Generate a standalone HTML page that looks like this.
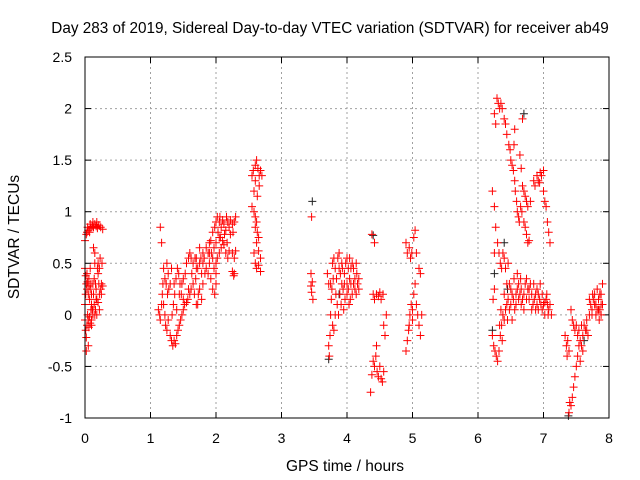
<!DOCTYPE html>
<html><head><meta charset="utf-8"><style>
body{margin:0;background:#fff;}
svg{display:block;font-family:"Liberation Sans",sans-serif;}
</style></head><body>
<svg id="c" width="640" height="480">
<text x="330" y="33" font-size="15.3" text-anchor="middle">Day 283 of 2019, Sidereal Day-to-day VTEC variation (SDTVAR) for receiver ab49</text>
<text x="345" y="471" font-size="15.5" text-anchor="middle">GPS time / hours</text>
<text transform="translate(19,237) rotate(-90)" font-size="15.5" text-anchor="middle">SDTVAR / TECUs</text>
<g id="grid"></g>
<g id="ticks"></g>
<g id="pts"></g>
<rect x="85" y="57" width="524" height="361" fill="none" stroke="#000"/>
</svg>
<script>
const xTicks=[0,1,2,3,4,5,6,7,8];
const yTicks=[-1,-0.5,0,0.5,1,1.5,2,2.5];
const yTickLabels=["-1","-0.5","0","0.5","1","1.5","2","2.5"];
const redPoints=[[0.0,0.72],[0.02,0.78],[0.03,0.8],[0.05,0.82],[0.07,0.8],[0.09,0.84],[0.11,0.86],[0.13,0.85],[0.15,0.88],[0.17,0.86],[0.19,0.84],[0.21,0.87],[0.24,0.85],[0.27,0.83],
[0.0,0.45],[0.01,0.38],[0.02,0.3],[0.03,0.25],[0.04,0.32],[0.05,0.2],[0.06,0.28],[0.07,0.15],[0.08,0.25],[0.09,0.3],[0.1,0.1],[0.11,0.05],[0.12,0.0],[0.13,0.2],[0.14,0.35],[0.15,0.5],[0.16,0.3],[0.17,0.25],[0.18,0.15],[0.19,0.45],[0.2,0.5],[0.21,0.3],[0.22,0.2],[0.23,0.55],[0.24,0.25],[0.25,0.3],[0.26,0.5],[0.27,0.28],[0.15,0.6],[0.13,0.65],
[0.0,-0.05],[0.01,-0.15],[0.02,-0.22],[0.03,-0.1],[0.04,0.0],[0.05,-0.05],[0.06,-0.12],[0.07,-0.02],[0.08,-0.08],[0.09,0.05],[0.1,-0.05],[0.12,0.05],[0.14,0.1],[0.16,0.05],[0.18,0.0],[0.2,0.12],[0.22,0.05],[0.02,-0.35],[0.05,-0.3],[0.0,0.1],[0.01,0.2],
[0.03,0.4],[0.06,0.35],[0.08,0.45],[0.1,0.2],[0.12,0.3],[0.2,0.4],[0.22,0.45],[0.25,0.2],[0.04,0.85],[0.08,0.88],[0.12,0.9],[0.18,0.9],[0.1,-0.1],[0.15,0.0],[0.17,0.15],
[1.15,0.85],[1.17,0.7],[1.12,0.05],[1.14,0.0],[1.15,-0.05],[1.17,0.1],[1.18,0.2],[1.19,0.3],[1.2,0.45],[1.2,0.1],[1.22,0.0],[1.23,-0.1],[1.25,-0.15],[1.27,-0.05],[1.28,0.25],[1.3,0.3],[1.32,0.45],[1.3,-0.2],[1.32,-0.25],[1.34,-0.3],[1.36,-0.25],[1.38,-0.28],[1.4,-0.2],[1.42,-0.15],[1.44,-0.1],[1.46,-0.05],[1.48,0.0],[1.5,0.05],[1.35,0.1],[1.37,0.2],[1.39,0.35],[1.41,0.45],[1.43,0.4],[1.45,0.3],[1.47,0.2],[1.5,0.15],[1.52,0.1],[1.55,0.12],[1.57,0.15],[1.6,0.2],[1.62,0.25],[1.65,0.3],[1.67,0.2],[1.7,0.1],[1.72,0.1],[1.69,0.35],[1.72,0.45],[1.75,0.5],[1.77,0.55],[1.8,0.6],[1.55,0.5],[1.58,0.55],[1.6,0.6],[1.62,0.55],[1.65,0.5],[1.68,0.55],[1.5,0.35],[1.53,0.4],[1.25,0.5],[1.27,0.4],[1.24,0.3],
[1.22,0.35],[1.26,0.2],[1.33,0.0],[1.36,0.3],[1.4,0.05],[1.44,0.2],[1.48,0.3],[1.58,0.25],[1.63,0.4],[1.7,0.45],[1.73,0.2],[1.78,0.4],
[1.8,0.5],[1.82,0.55],[1.85,0.65],[1.88,0.6],[1.9,0.7],[1.92,0.72],[1.95,0.8],[1.98,0.85],[2.0,0.9],[2.02,0.95],[2.05,0.9],[2.08,0.85],[2.1,0.92],[2.12,0.88],[2.15,0.82],[2.18,0.9],[2.2,0.85],[2.22,0.92],[2.25,0.88],[2.28,0.9],[2.3,0.95],[1.85,0.45],[1.9,0.5],[1.95,0.55],[2.0,0.5],[2.05,0.6],[2.08,0.65],[2.1,0.72],[2.12,0.68],[2.15,0.6],[2.18,0.55],[2.2,0.62],[2.25,0.6],[2.28,0.55],[2.3,0.62],[1.88,0.4],[1.92,0.35],[1.95,0.25],[1.98,0.2],[2.0,0.3],[2.02,0.55],[2.05,0.75],[2.25,0.42],[2.27,0.38],[2.28,0.4],[1.75,0.25],[1.78,0.15],[1.8,0.3],[1.83,0.4],[1.7,0.55],[1.75,0.65],
[1.93,0.6],[1.97,0.65],[2.0,0.7],[2.03,0.8],[2.07,0.75],[2.13,0.78],[2.17,0.7],[2.22,0.78],[2.26,0.8],[2.0,0.4],[1.97,0.45],[1.9,0.6],[2.06,0.95],[2.16,0.95],
[2.55,1.35],[2.57,1.4],[2.6,1.45],[2.62,1.5],[2.64,1.42],[2.66,1.35],[2.68,1.4],[2.58,1.2],[2.6,1.3],[2.63,1.15],[2.55,1.05],[2.58,1.0],[2.6,0.95],[2.62,0.9],[2.6,0.85],[2.63,0.8],[2.65,0.75],[2.62,0.7],[2.65,0.62],[2.68,0.55],[2.6,0.5],[2.62,0.45],[2.65,0.48],[2.68,0.42],[2.58,0.6],[2.66,1.25],[2.7,1.35],
[3.46,0.95],[3.45,0.4],[3.47,0.32],[3.46,0.22],[3.48,0.15],[3.45,0.28],
[3.7,0.4],[3.72,0.3],[3.72,-0.3],[3.73,-0.4],[3.74,-0.2],[3.75,0.0],[3.76,0.15],[3.77,0.25],[3.78,0.5],[3.8,0.55],[3.82,0.45],[3.84,0.35],[3.86,0.55],[3.88,0.6],[3.9,0.4],[3.92,0.3],[3.94,0.25],[3.96,0.4],[3.98,0.5],[4.0,0.55],[4.02,0.45],[4.04,0.35],[4.06,0.3],[4.08,0.5],[4.1,0.45],[4.12,0.35],[4.14,0.2],[4.16,0.3],[4.18,0.25],[3.85,0.1],[3.87,0.0],[3.89,0.2],[3.91,0.1],[3.95,0.05],[3.97,0.15],[4.0,0.2],[4.03,0.1],[4.05,0.15],[4.08,0.2],[3.8,-0.15],[3.78,-0.1],[3.82,0.0],[3.93,0.45],[4.0,0.3],[4.1,0.3],[4.15,0.4],
[3.75,0.3],[3.79,0.35],[3.83,0.2],[3.88,0.45],[3.92,0.5],[3.96,0.3],[4.02,0.25],[4.06,0.45],[4.12,0.25],[4.14,0.5],[4.18,0.35],[4.04,0.55],
[4.38,0.78],[4.42,0.7],[4.4,0.2],[4.42,0.15],[4.45,0.2],[4.48,0.18],[4.5,0.22],[4.52,0.15],[4.55,0.2],[4.4,-0.45],[4.42,-0.5],[4.44,-0.4],[4.46,-0.55],[4.48,-0.6],[4.5,-0.5],[4.52,-0.62],[4.54,-0.65],[4.56,-0.55],[4.58,-0.2],[4.56,-0.1],[4.38,-0.58],[4.36,-0.75],[4.45,-0.3],[4.6,0.0],
[4.9,0.7],[4.92,0.6],[4.95,0.65],[4.97,0.55],[4.99,0.6],[5.02,0.75],[5.04,0.82],[5.06,0.6],[5.1,0.45],[5.12,0.4],[4.9,-0.35],[4.92,-0.25],[4.94,-0.15],[4.96,0.0],[4.98,0.1],[5.0,0.05],[5.02,0.2],[5.04,0.3],[5.06,0.1],[5.08,0.0],[5.1,-0.1],[5.12,-0.2],[5.14,0.0],[5.0,-0.05],[4.95,-0.1],
[6.25,1.95],[6.27,1.85],[6.29,2.1],[6.31,2.05],[6.33,2.0],[6.35,2.05],[6.37,2.0],[6.4,1.9],[6.42,1.85],[6.44,1.75],[6.47,1.65],[6.49,1.6],[6.5,1.5],[6.52,1.45],[6.54,1.4],[6.56,1.3],[6.57,1.2],[6.59,1.1],[6.6,1.0],[6.62,0.95],[6.63,0.9],[6.65,1.05],[6.67,1.0],[6.7,0.9],[6.72,0.85],[6.74,0.78],[6.76,0.7],[6.78,0.72],[6.55,1.65],[6.56,1.8],[6.68,1.9],[6.64,1.55],[6.66,1.42],[6.68,1.25],[6.7,1.2],[6.72,1.15],[6.74,1.1],[6.76,1.05],[6.8,1.1],[6.85,1.3],[6.87,1.25],[6.9,1.35],[6.92,1.3],[6.95,1.38],[6.97,1.35],[7.0,1.4],[7.0,1.2],[7.02,1.1],[7.04,1.05],[7.06,0.9],[7.08,0.8],[7.1,0.7],[6.94,1.28],[6.22,1.2],[6.25,0.6],
[6.25,1.05],[6.27,0.85],[6.3,0.7],[6.32,0.6],[6.34,0.5],[6.36,0.45],[6.38,0.6],[6.4,0.55],[6.42,0.45],[6.44,0.3],[6.46,0.5],[6.48,0.3],[6.25,0.25],[6.23,0.15],[6.22,-0.2],[6.24,-0.3],[6.26,-0.35],[6.28,-0.4],[6.3,-0.45],[6.32,-0.35],[6.34,-0.2],[6.36,-0.1],[6.38,0.0],[6.4,-0.05],[6.42,0.05],[6.44,0.1],[6.46,0.15],[6.48,0.05],[6.5,0.1],[6.52,0.2],[6.54,0.15],[6.56,0.05],[6.58,0.2],[6.6,0.25],[6.62,0.3],[6.64,0.2],[6.66,0.1],[6.68,0.15],[6.7,0.2],[6.72,0.3],[6.74,0.35],[6.76,0.25],[6.78,0.15],[6.8,0.3],[6.82,0.2],[6.84,0.1],[6.86,0.15],[6.88,0.05],[6.9,0.1],[6.92,0.2],[6.94,0.15],[6.96,0.1],[6.98,0.05],[7.0,0.1],[7.02,0.0],[7.04,0.15],[7.06,0.1],[7.08,0.05],[7.1,0.1],[7.12,0.0],[6.52,-0.05],[6.55,0.35],[6.6,0.4],[6.65,0.35],[6.85,0.3],[6.9,0.25],[6.95,0.3],[7.05,0.2],[6.35,0.05],[6.4,0.2],[6.45,-0.05],
[6.5,0.25],[6.58,0.1],[6.62,0.15],[6.66,0.25],[6.7,0.05],[6.74,0.15],[6.78,0.25],[6.82,0.05],[6.88,0.2],[6.92,0.05],[6.98,0.2],[7.02,0.12],[7.07,0.0],[6.33,-0.1],[6.37,-0.25],
[7.33,-0.2],[7.35,-0.3],[7.37,-0.25],[7.39,-0.35],[7.36,-0.4],[7.42,0.05],[7.44,-0.05],[7.46,-0.1],[7.48,-0.15],[7.5,-0.1],[7.52,-0.2],[7.54,-0.15],[7.56,-0.25],[7.58,-0.3],[7.6,-0.2],[7.62,-0.1],[7.64,-0.15],[7.66,-0.05],[7.68,-0.2],[7.7,0.0],[7.72,0.1],[7.74,0.05],[7.76,0.15],[7.78,0.2],[7.8,0.1],[7.82,0.25],[7.84,0.15],[7.86,0.05],[7.88,0.2],[7.9,0.3],[7.9,0.1],[7.88,0.0],[7.85,-0.05],[7.8,0.0],[7.4,-0.85],[7.42,-0.88],[7.44,-0.8],[7.46,-0.7],[7.48,-0.6],[7.5,-0.5],[7.52,-0.4],[7.54,-0.3],[7.39,-0.95],[7.56,-0.45],[7.6,-0.35],[7.75,0.2],[7.7,0.15],
[7.74,0.0],[7.78,0.1],[7.82,0.05],[7.86,0.2],[7.88,0.1],[7.84,0.05],[7.66,-0.15],[7.58,-0.1]];
const blackPoints=[[3.47,1.1],[3.72,-0.43],[4.4,0.77],[6.22,-0.15],[6.25,0.4],[6.4,0.7],[6.7,1.95],[7.38,-0.98],[6.45,0.25],[7.62,-0.25],[3.88,0.2]];

const X0=85,X1=609,Y0=418,Y1=57;
const xs=t=>X0+(t-0)/(8-0)*(X1-X0);
const ys=v=>Y0-(v-(-1))/(2.5-(-1))*(Y0-Y1);
const NS="http://www.w3.org/2000/svg";
function mk(tag,attrs,parent){const e=document.createElementNS(NS,tag);for(const k in attrs)e.setAttribute(k,attrs[k]);parent.appendChild(e);return e;}
const grid=document.getElementById('grid'),ticks=document.getElementById('ticks'),pts=document.getElementById('pts');
xTicks.forEach(t=>{const x=xs(t);
 if(t>0&&t<8){const g=mk('line',{x1:x,x2:x,y1:Y1,y2:Y0,stroke:'#a0a0a0','stroke-dasharray':'2,3'},grid);}
 mk('line',{x1:x,x2:x,y1:Y0,y2:Y0-6,stroke:'#000'},ticks);mk('line',{x1:x,x2:x,y1:Y1,y2:Y1+6,stroke:'#000'},ticks);
 const l=mk('text',{x:x,y:443,'font-size':14,'text-anchor':'middle'},ticks);l.textContent=String(t);
 
 });
yTicks.forEach((v,i)=>{const y=ys(v);
 if(v>-1&&v<2.5){const g=mk('line',{x1:X0,x2:X1,y1:y,y2:y,stroke:'#a0a0a0','stroke-dasharray':'2,3'},grid);}
 mk('line',{x1:X0,x2:X0+6,y1:y,y2:y,stroke:'#000'},ticks);mk('line',{x1:X1,x2:X1-6,y1:y,y2:y,stroke:'#000'},ticks);
 const l=mk('text',{x:72,y:y+5,'font-size':14,'text-anchor':'end'},ticks);l.textContent=yTickLabels[i];
 
 });
function draw(arr,col,name){let d='';arr.forEach(([t,v])=>{const x=xs(t),y=ys(v);d+=`M${(x-4).toFixed(1)} ${y.toFixed(1)}h8M${x.toFixed(1)} ${(y-4).toFixed(1)}v8`;});
 const p=mk('path',{d:d,stroke:col,'stroke-width':1,fill:'none'},pts);
 
 }
draw(blackPoints,'#202020','black-points');
draw(redPoints,'#ff0000','red-points');
</script>
</body></html>
